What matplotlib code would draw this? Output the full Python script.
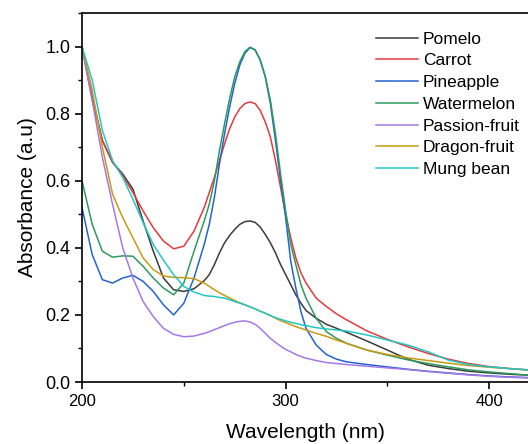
import matplotlib.pyplot as plt
from matplotlib.ticker import MultipleLocator

plt.rcParams['font.family'] = ['Liberation Sans', 'DejaVu Sans']

wavelength = [200, 205, 210, 215, 220, 225, 230, 235, 240, 245, 250, 255, 260,
              262.5, 265, 267.5, 270, 272.5, 275, 277.5, 280, 282.5, 285, 287.5, 290,
              292.5, 295, 297.5, 300, 302.5, 305, 307.5, 310,
              315, 320, 325, 330, 340, 350, 360, 370, 380, 390, 400, 410, 420]

pomelo = [1.0, 0.85, 0.72, 0.655, 0.62, 0.575, 0.48, 0.39, 0.31, 0.275, 0.27, 0.278, 0.302,
          0.32, 0.35, 0.385, 0.415, 0.437, 0.455, 0.47, 0.478, 0.48, 0.476, 0.462, 0.44,
          0.415, 0.385, 0.35, 0.32, 0.29, 0.26, 0.235, 0.213,
          0.19, 0.172, 0.16, 0.148, 0.122, 0.095, 0.068, 0.05, 0.04, 0.032, 0.027, 0.023, 0.02]
carrot = [1.0, 0.84, 0.72, 0.655, 0.615, 0.565, 0.51, 0.46, 0.42, 0.397, 0.405, 0.45, 0.52,
          0.565, 0.61, 0.66, 0.71, 0.755, 0.79, 0.815, 0.83, 0.835, 0.83, 0.81, 0.775,
          0.73, 0.66, 0.58, 0.50, 0.43, 0.37, 0.325, 0.295,
          0.25, 0.225, 0.203, 0.185, 0.152, 0.127, 0.105, 0.085, 0.068, 0.055, 0.046, 0.04, 0.035]
pineapple = [0.52, 0.38, 0.305, 0.295, 0.31, 0.318, 0.30, 0.27, 0.23, 0.20, 0.235, 0.31, 0.41,
             0.47, 0.55, 0.65, 0.74, 0.82, 0.89, 0.945, 0.98, 0.997, 0.99, 0.96, 0.91,
             0.83, 0.72, 0.60, 0.49, 0.36, 0.28, 0.21, 0.16,
             0.11, 0.082, 0.068, 0.06, 0.052, 0.045, 0.038, 0.032, 0.027, 0.022, 0.018, 0.015, 0.013]
watermelon = [0.60, 0.47, 0.39, 0.372, 0.376, 0.375, 0.345, 0.31, 0.28, 0.26, 0.295, 0.39, 0.48,
              0.53, 0.60, 0.69, 0.77, 0.845, 0.91, 0.955, 0.985, 0.998, 0.99, 0.96, 0.91,
              0.84, 0.74, 0.62, 0.51, 0.41, 0.35, 0.29, 0.25,
              0.19, 0.15, 0.13, 0.115, 0.095, 0.08, 0.066, 0.055, 0.045, 0.036, 0.03, 0.025, 0.02]
passion = [1.0, 0.84, 0.67, 0.53, 0.40, 0.31, 0.24, 0.195, 0.16, 0.142, 0.135, 0.137, 0.145,
           0.15, 0.156, 0.162, 0.168, 0.174, 0.178, 0.181, 0.182, 0.179, 0.172, 0.16, 0.145,
           0.13, 0.118, 0.107, 0.097, 0.09, 0.082, 0.076, 0.071,
           0.064, 0.058, 0.055, 0.052, 0.047, 0.042, 0.037, 0.031, 0.026, 0.021, 0.017, 0.014, 0.012]
dragon = [1.0, 0.87, 0.70, 0.56, 0.49, 0.43, 0.37, 0.335, 0.316, 0.312, 0.311, 0.308, 0.295,
          0.285, 0.275, 0.266, 0.258, 0.25, 0.243, 0.236, 0.23, 0.224, 0.218, 0.211, 0.205,
          0.198, 0.19, 0.183, 0.177, 0.171, 0.165, 0.16, 0.155,
          0.145, 0.136, 0.125, 0.115, 0.095, 0.082, 0.072, 0.064, 0.056, 0.049, 0.044, 0.04, 0.036]
mung = [1.0, 0.90, 0.75, 0.66, 0.61, 0.545, 0.475, 0.41, 0.363, 0.32, 0.285, 0.268, 0.258,
        0.256, 0.255, 0.252, 0.25, 0.245, 0.24, 0.235, 0.23, 0.224, 0.218, 0.211, 0.205,
        0.198, 0.192, 0.187, 0.182, 0.178, 0.175, 0.171, 0.168,
        0.162, 0.158, 0.155, 0.152, 0.14, 0.125, 0.11, 0.09, 0.065, 0.052, 0.045, 0.04, 0.036]

names = ['Pomelo', 'Carrot', 'Pineapple', 'Watermelon', 'Passion-fruit', 'Dragon-fruit', 'Mung bean']
series = [pomelo, carrot, pineapple, watermelon, passion, dragon, mung]
colors = ['#3c3c3c', '#e8383d', '#2563d3', '#2e9a5e', '#a678e6', '#c89a12', '#22c6c6']

fig = plt.figure(figsize=(5.28, 4.44), dpi=100)
ax = fig.add_axes([82 / 528, 62 / 444, 446 / 528, 369 / 444])

for name, vals, c in zip(names, series, colors):
    ax.plot(wavelength, vals, color=c, lw=1.1, label=name)

ax.set_xlim(200, 419)
ax.set_ylim(0, 1.1)
ax.xaxis.set_major_locator(MultipleLocator(100))
ax.xaxis.set_minor_locator(MultipleLocator(50))
ax.yaxis.set_major_locator(MultipleLocator(0.2))
ax.yaxis.set_minor_locator(MultipleLocator(0.1))
ax.yaxis.set_major_formatter(plt.FuncFormatter(lambda v, p: '%.1f' % v))
ax.spines['right'].set_visible(False)
for s in ['left', 'bottom', 'top']:
    ax.spines[s].set_linewidth(1.2)
ax.tick_params(which='major', direction='out', length=5, width=1.2, labelsize=12)
ax.tick_params(axis='y', which='major', labelsize=13)
ax.tick_params(which='minor', direction='out', length=3, width=1.0)
ax.set_xlabel('Wavelength (nm)', fontsize=15, labelpad=10)
ax.set_ylabel('Absorbance (a.u)', fontsize=15, labelpad=6)

ax.legend(loc='upper left', bbox_to_anchor=(0.659, 0.95), frameon=False, fontsize=12.5,
          handlelength=2.4, handletextpad=0.3, labelspacing=0.38,
          borderpad=0, borderaxespad=0)

fig.savefig('out.png', dpi=100)
